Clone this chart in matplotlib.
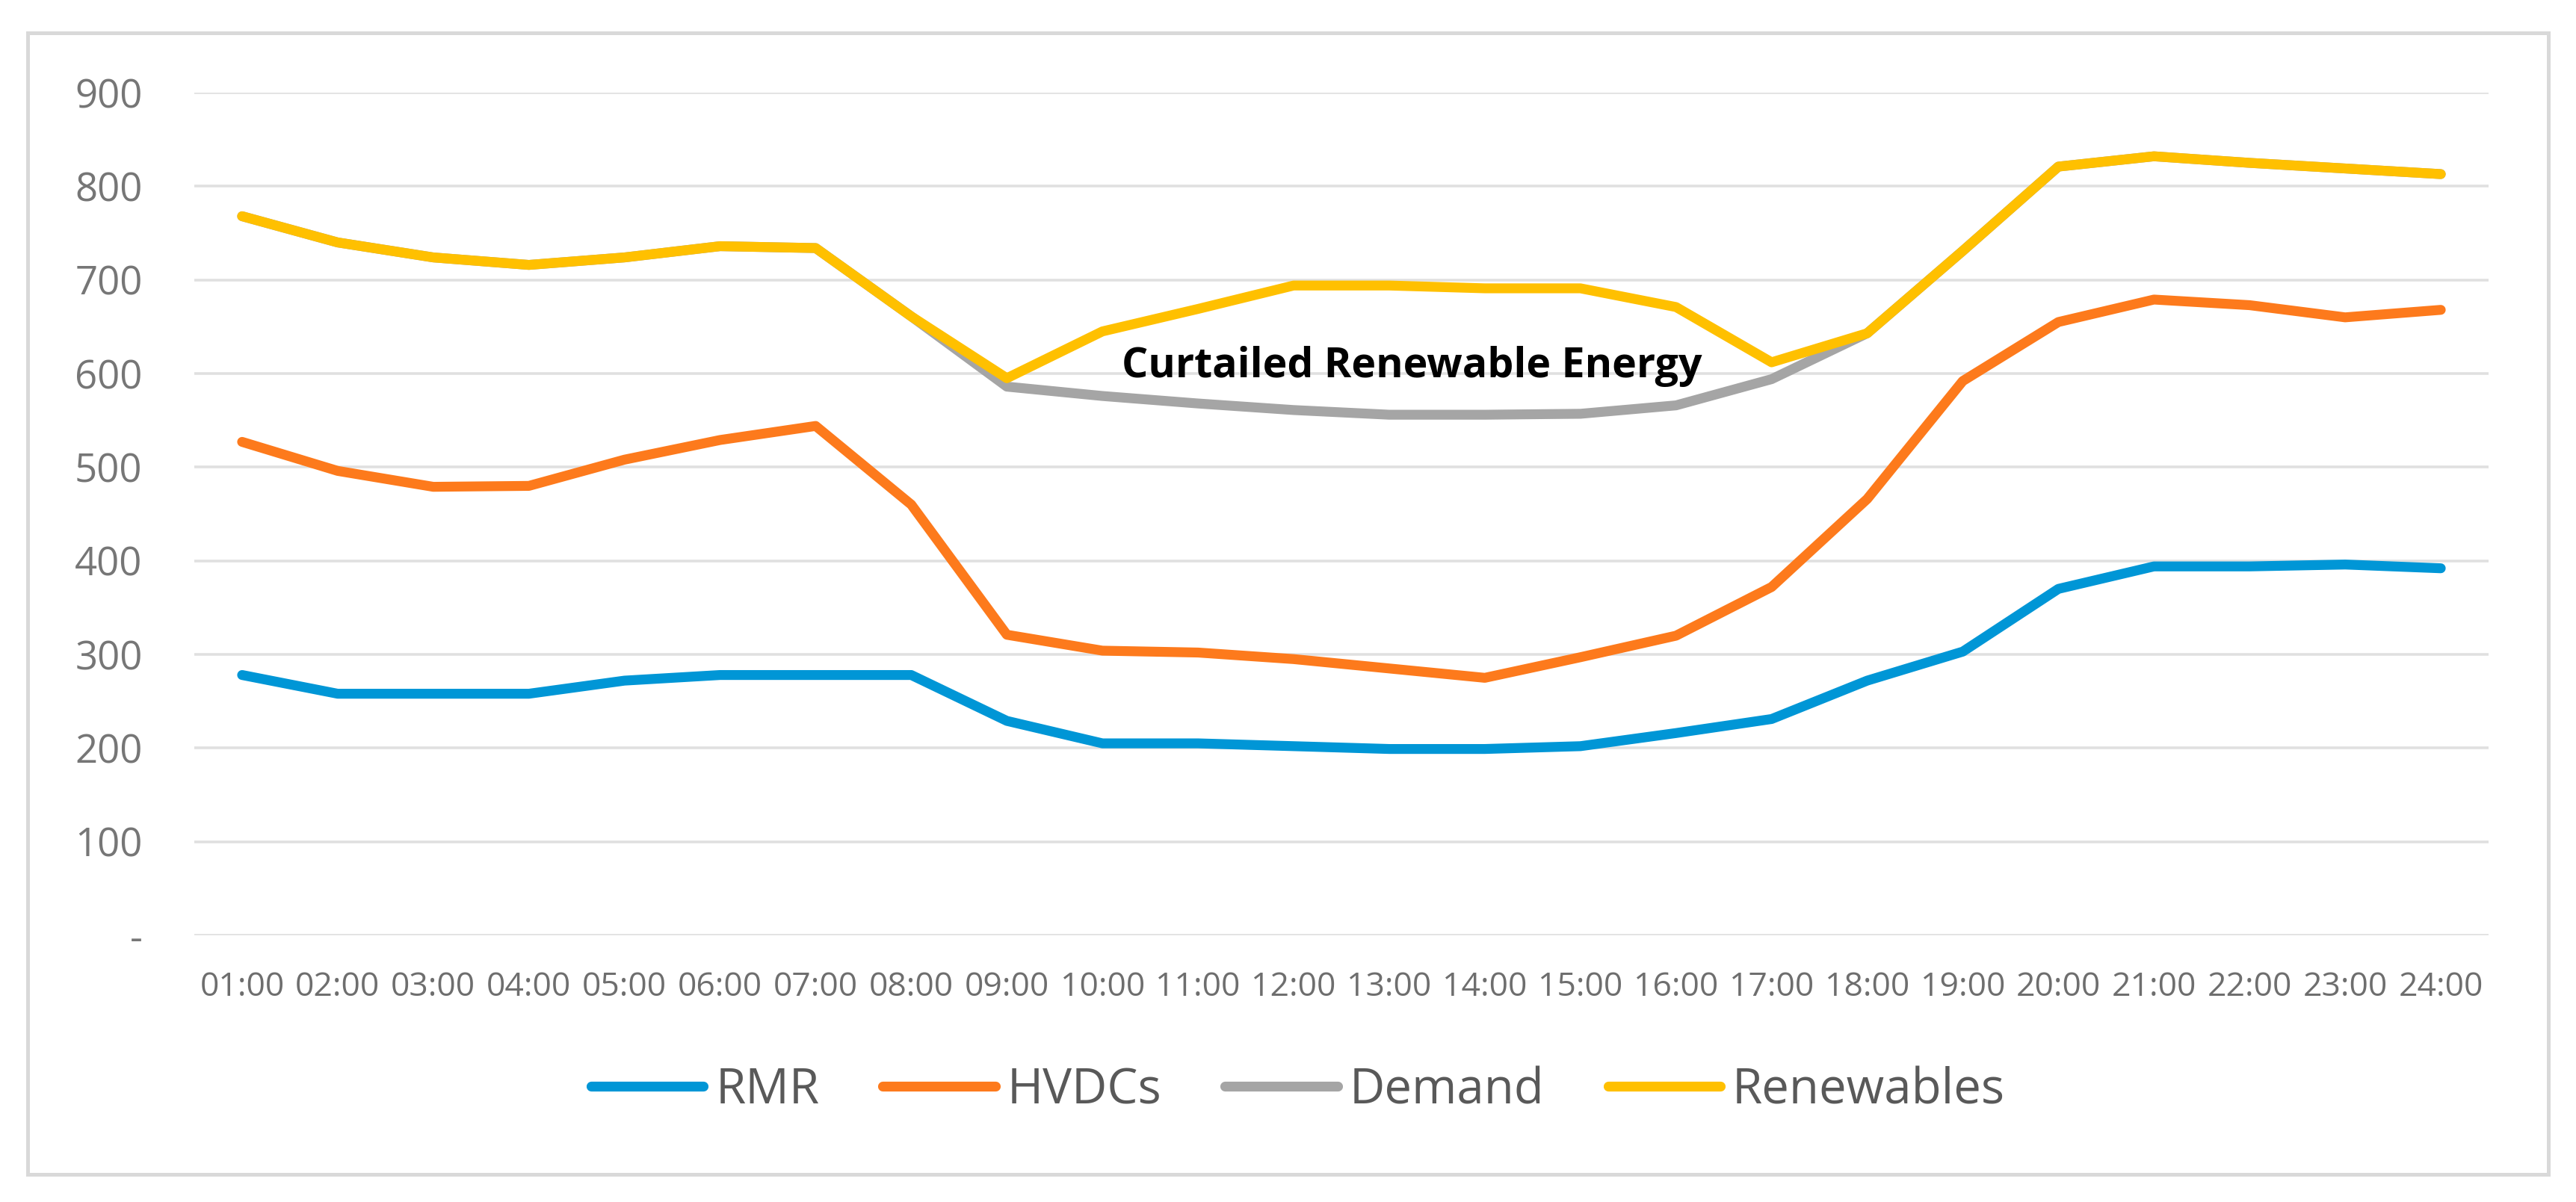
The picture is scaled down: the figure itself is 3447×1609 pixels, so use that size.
import matplotlib
matplotlib.use("Agg")
import matplotlib.pyplot as plt
from matplotlib.patches import Rectangle
from matplotlib.lines import Line2D

plt.rcParams['font.family'] = ['Open Sans', 'DejaVu Sans']

hours = ["01:00", "02:00", "03:00", "04:00", "05:00", "06:00", "07:00", "08:00",
         "09:00", "10:00", "11:00", "12:00", "13:00", "14:00", "15:00", "16:00",
         "17:00", "18:00", "19:00", "20:00", "21:00", "22:00", "23:00", "24:00"]

rmr = [278, 258, 258, 258, 272, 278, 278, 278, 229, 205, 205, 202,
       199, 199, 202, 216, 231, 272, 303, 370, 394, 394, 396, 392]
hvdcs = [527, 496, 479, 480, 508, 529, 544, 460, 321, 304, 302, 295,
         285, 275, 297, 320, 372, 466, 592, 655, 679, 673, 660, 668]
demand = [768, 740, 724, 716, 724, 736, 734, 661, 586, 576, 568, 561,
          556, 556, 557, 566, 594, 643, 731, 821, 832, 825, 819, 813]
renewables = [768, 740, 724, 716, 724, 736, 734, 661, 595, 645, 669, 694,
              694, 691, 691, 671, 612, 643, 731, 821, 832, 825, 819, 813]

series_names = ["RMR", "HVDCs", "Demand", "Renewables"]
series_colors = ["#0096d6", "#fd7a1c", "#a5a5a5", "#ffc000"]
y_ticks = [0, 100, 200, 300, 400, 500, 600, 700, 800, 900]
y_ticklabels = ["-", "100", "200", "300", "400", "500", "600", "700", "800", "900"]
annotation = "Curtailed Renewable Energy"

W, H = 3448, 1609
fig = plt.figure(figsize=(W / 100, H / 100), dpi=100)
fig.patch.set_facecolor("white")

# outer frame
fig.patches.append(Rectangle((37 / W, 1 - 1572 / H), (3410 - 37) / W, (1572 - 44) / H,
                             transform=fig.transFigure, fill=False,
                             edgecolor="#d9d9d9", linewidth=3.6))

ax = fig.add_axes([260 / W, 1 - 1252 / H, 3070 / W, (1252 - 124) / H])
x = list(range(len(hours)))
lw = 9.5
for vals, name, col in zip([rmr, hvdcs, demand, renewables], series_names, series_colors):
    ax.plot(x, vals, color=col, linewidth=lw, label=name,
            solid_capstyle="round", solid_joinstyle="round", zorder=3)

ax.set_xlim(-0.5, len(hours) - 0.5)
ax.set_ylim(0, 900)
ax.set_yticks(y_ticks)
ax.set_yticklabels(y_ticklabels)
ax.set_xticks(x)
ax.set_xticklabels(hours)
ax.grid(axis="y", color="#e0e0e0", linewidth=2.6, zorder=0)
ax.grid(axis="x", visible=False)
for s in ax.spines.values():
    s.set_visible(False)
ax.tick_params(axis="y", length=0, pad=50, labelsize=38, labelcolor="#767676")
ax.tick_params(axis="x", length=0, pad=34, labelsize=32, labelcolor="#6e6e6e")
ax.set_facecolor("white")

ax.text(12.24, 596, annotation, ha="center", va="baseline",
        fontsize=40, fontweight="bold", color="black", zorder=5)

handles = [Line2D([0], [0], color=c, linewidth=lw, solid_capstyle="round")
           for c in series_colors]
fig.legend(handles, series_names, loc="center", ncol=4,
           bbox_to_anchor=(1737 / W, 1 - 1460 / H), frameon=False,
           fontsize=47, labelcolor="#595959", handlelength=2.3,
           handletextpad=0.25, columnspacing=1.3)

fig.savefig("out.png", dpi=100)
